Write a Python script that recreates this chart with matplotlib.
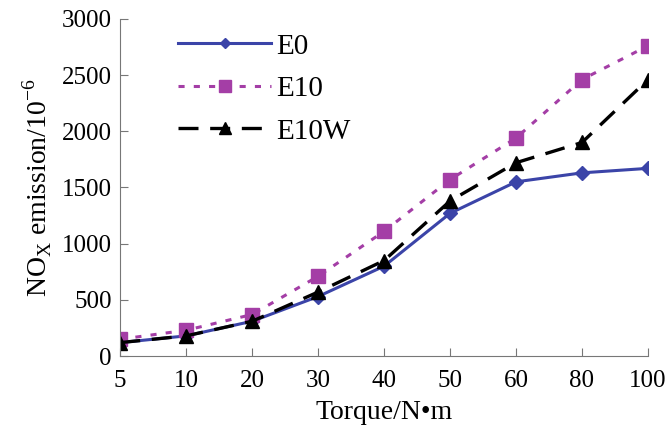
import matplotlib.pyplot as plt

plt.rcParams['font.family'] = ['Liberation Serif', 'DejaVu Serif']
plt.rcParams['mathtext.fontset'] = 'custom'
plt.rcParams['mathtext.rm'] = 'Liberation Serif'

# Dados
torques = ["5", "10", "20", "30", "40", "50", "60", "80", "100"]
e0 = [120, 180, 310, 530, 800, 1270, 1550, 1630, 1670]
e10 = [150, 230, 370, 710, 1110, 1570, 1940, 2460, 2760]
e10w = [120, 180, 310, 570, 850, 1380, 1720, 1900, 2460]

pos = list(range(len(torques)))

fig = plt.figure(figsize=(6.68, 4.28), dpi=100)
ax = fig.add_axes([0.18, 0.168, 0.79, 0.788])

ax.plot(pos, e0, color="#3b44a8", lw=2.2, marker="D", ms=7, label="E0")
ax.plot(pos, e10, color="#a43ea6", lw=2.2, ls=(0, (2, 3)), marker="s", ms=10, label="E10")
ax.plot(pos, e10w, color="black", lw=2.4, ls=(0, (6, 3.5)), marker="^", ms=10, label="E10W")

ax.set_xlim(0, 8)
ax.set_ylim(0, 3000)
ax.set_xticks(pos)
ax.set_xticklabels(torques)
ax.set_yticks(range(0, 3001, 500))

for s in ["top", "right"]:
    ax.spines[s].set_visible(False)
for s in ["left", "bottom"]:
    ax.spines[s].set_color("#777777")
ax.tick_params(direction="in", length=6, color="#777777", labelsize=18, pad=6)
ax.tick_params(axis="x", pad=10)

ax.set_xlabel("Torque/N•m", fontsize=20, labelpad=6)
ax.set_ylabel("NO$_{\\mathrm{X}}$ emission/10$^{\\mathrm{-6}}$", fontsize=20, labelpad=6)

ax.legend(loc="upper left", bbox_to_anchor=(0.06, 1.035), frameon=False,
          fontsize=21, handlelength=3.2, handletextpad=0.15, labelspacing=0.55,
          markerscale=0.8)

plt.savefig("out.png")
